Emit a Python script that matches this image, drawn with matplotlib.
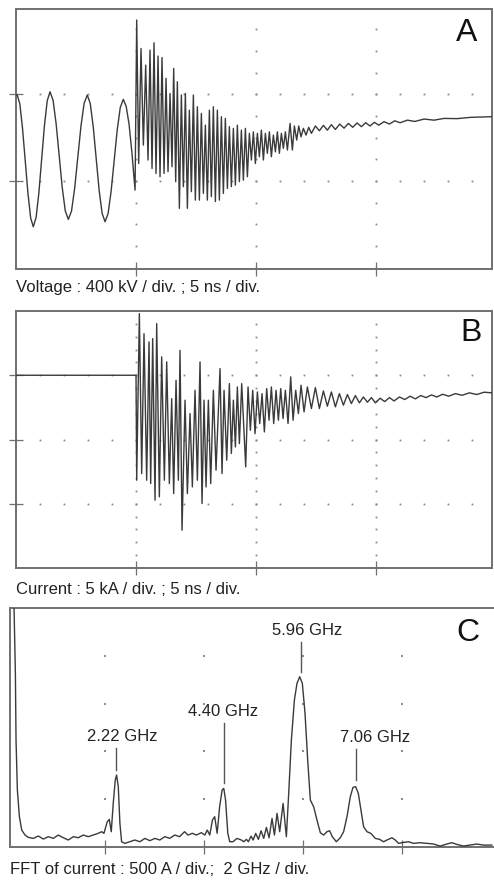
import matplotlib
matplotlib.use('Agg')
import matplotlib.pyplot as plt
import numpy as np

plt.rcParams['font.family'] = ['Liberation Sans', 'DejaVu Sans']

# ---- panel A : voltage (ns, kV) ----
volt_t = [0.0, 0.05, 0.16, 0.27, 0.385, 0.5, 0.61, 0.72, 0.836, 0.952, 1.068, 1.185, 1.30,
          1.417, 1.544, 1.671, 1.80, 1.926, 2.053, 2.18, 2.312, 2.443, 2.575, 2.707, 2.838,
          2.97, 3.093, 3.217, 3.34, 3.463, 3.587, 3.71, 3.837, 3.963, 4.09, 4.217, 4.343,
          4.47, 4.59, 4.71, 4.83, 4.96,
          5.028, 5.111, 5.208, 5.306, 5.403, 5.5, 5.583, 5.667, 5.75, 5.833, 5.917, 6.0,
          6.083, 6.167, 6.25, 6.333, 6.417, 6.5, 6.569, 6.653, 6.722, 6.806, 6.889, 6.972,
          7.056, 7.139, 7.222, 7.306, 7.389, 7.472, 7.556, 7.639, 7.722, 7.806, 7.889, 7.972,
          8.056, 8.139, 8.222, 8.306, 8.389, 8.472, 8.556, 8.639, 8.722, 8.806, 8.889, 8.972,
          9.056, 9.139, 9.222, 9.306, 9.389, 9.472, 9.556, 9.639, 9.722, 9.806, 9.889, 9.972,
          10.056, 10.139, 10.222, 10.306, 10.389, 10.472, 10.556, 10.639, 10.722, 10.806,
          10.889, 10.972, 11.056, 11.139, 11.222, 11.306, 11.417, 11.514, 11.597, 11.694,
          11.778, 11.875, 11.972, 12.083, 12.194, 12.306, 12.472, 12.639, 12.806, 12.972,
          13.139, 13.306, 13.486, 13.667, 13.847, 14.028, 14.208, 14.389, 14.569, 14.75,
          14.93, 15.111, 15.333, 15.556, 15.778, 16.0, 16.306, 16.611, 17.0, 17.417, 17.833,
          18.389, 18.944, 19.847]
volt_kv = [397, 397, 356, 245, 93, -59, -170, -211, -169, -55, 100, 256, 370,
           412, 373, 265, 118, -30, -138, -177, -139, -34, 110, 254, 359,
           397, 358, 251, 105, -42, -149, -188, -150, -47, 95, 236, 339,
           377, 345, 262, 130, -42,
           743, 81, 612, 166, 535, 97, 604, 58, 638, 35, 577, 20,
           570, 35, 474, 43, 404, 66, 520, -3, 458, -126, 397, -26,
           404, -126, 327, -49, 397, -88, 343, -88, 312, -57, 258, -88,
           327, -72, 343, -95, 327, -88, 297, -57, 289, -34, 251, -26,
           243, -19, 258, -3, 235, 4, 243, 20, 220, 97, 227, 81,
           220, 112, 235, 97, 220, 128, 227, 112, 212, 135,
           227, 128, 220, 151, 227, 143, 266, 143, 254, 189,
           254, 204, 243, 212, 248, 220, 254, 232, 257, 235,
           260, 238, 263, 244, 266, 248, 268, 251, 269, 254,
           271, 258, 274, 263, 278, 269, 281, 275, 286, 281, 289,
           288, 294, 297]

# ---- panel B : current (ns, kA) ----
curr_t = [0.0, 5.0, 5.028, 5.139, 5.236, 5.333, 5.444, 5.542, 5.611, 5.694, 5.792, 5.861,
          5.972, 6.069, 6.181, 6.278, 6.389, 6.486, 6.569, 6.667, 6.764, 6.833, 6.917, 7.042,
          7.139, 7.25, 7.347, 7.458, 7.556, 7.667, 7.75, 7.833, 7.917, 8.014, 8.111, 8.222,
          8.333, 8.5, 8.583, 8.667, 8.778, 8.889, 8.972, 9.056, 9.139, 9.222, 9.306, 9.403,
          9.569, 9.667, 9.764, 9.861, 9.958, 10.056, 10.153, 10.25, 10.347, 10.444, 10.542,
          10.639, 10.736, 10.833, 10.931, 11.028, 11.125, 11.222, 11.333, 11.444, 11.542,
          11.653, 11.764, 11.875, 12.0, 12.139, 12.306, 12.472, 12.639, 12.806, 12.972,
          13.139, 13.306, 13.472, 13.639, 13.806, 13.972, 14.139, 14.306, 14.472, 14.639,
          14.806, 14.972, 15.167, 15.361, 15.556, 15.75, 15.972, 16.194, 16.417, 16.639,
          16.861, 17.083, 17.306, 17.528, 17.778, 18.028, 18.306, 18.583, 18.889, 19.194,
          19.5, 19.847]
curr_ka = [0.0, 0.0, -8.17, 4.80, -7.65, 3.24, -8.17, 2.59, -8.43, 2.85, -9.72, 4.02,
           -9.46, 1.43, -8.17, 1.04, -8.43, -1.82, -9.21, -0.39, -8.17, 1.94, -12.06, -1.94,
           -9.21, -2.98, -8.69, -1.17, -8.17, 1.04, -9.98, -1.94, -8.69, -1.94, -8.43, -1.17,
           -7.39, 0.52, -7.65, -1.17, -6.61, -0.65, -6.09, -1.94, -5.58, -0.91, -5.32, -0.65,
           -7.13, -0.91, -4.28, -1.17, -4.54, -1.30, -3.76, -1.43, -4.41, -1.04, -3.50,
           -0.91, -3.76, -1.17, -3.50, -1.04, -3.37, -1.17, -3.76, -0.13, -3.50,
           -1.17, -2.98, -0.78, -2.85, -0.91, -2.59, -0.96, -2.59, -1.22, -2.41,
           -1.30, -2.46, -1.43, -2.33, -1.50, -2.20, -1.58, -2.15, -1.69, -2.10,
           -1.74, -2.15, -1.79, -2.05, -1.74, -2.00, -1.69, -1.89, -1.63, -1.84,
           -1.58, -1.74, -1.53, -1.69, -1.48, -1.63, -1.43, -1.56, -1.37, -1.50,
           -1.32, -1.37]

# ---- panel C : FFT of current (GHz, A) ----
fft_f = [0.13, 0.152, 0.179, 0.192, 0.219, 0.26, 0.307, 0.374, 0.441, 0.542, 0.643, 0.744,
         0.845, 0.946, 1.047, 1.148, 1.249, 1.35, 1.451, 1.552, 1.653, 1.754, 1.855, 1.923,
         1.97, 2.037, 2.078, 2.118, 2.158, 2.199, 2.226, 2.26, 2.293, 2.327, 2.394, 2.495,
         2.596, 2.697, 2.798, 2.899, 3.0, 3.1, 3.2, 3.3, 3.4, 3.5, 3.6, 3.67, 3.76, 3.84,
         3.94, 4.01, 4.06, 4.11, 4.165, 4.21, 4.26, 4.31, 4.36, 4.394, 4.43, 4.475, 4.515,
         4.58, 4.66, 4.75,
         4.798, 4.852, 4.892, 4.946, 4.987, 5.040, 5.094, 5.148, 5.202, 5.256, 5.310, 5.370,
         5.418, 5.471, 5.525, 5.593, 5.660, 5.707, 5.761, 5.822, 5.875, 5.929, 5.983, 6.037,
         6.091, 6.145, 6.212, 6.279, 6.347, 6.414, 6.481, 6.535, 6.589, 6.670, 6.751, 6.818,
         6.886, 6.953, 7.007, 7.061, 7.115, 7.168, 7.222, 7.290, 7.370, 7.458, 7.545, 7.626,
         7.694, 7.795, 7.862, 7.929, 8.030, 8.131, 8.232, 8.367, 8.502, 8.636, 8.771, 8.906,
         9.007, 9.108, 9.242, 9.377, 9.512, 9.646, 9.815]
fft_a = [3000, 2496, 1816, 1119, 596, 317, 177, 125, 101, 90, 115, 83,
         108, 90, 125, 97, 73, 108, 97, 125, 108, 125, 143, 160,
         143, 264, 289, 160, 456, 700, 753, 631, 247, 55, 38, 55,
         73, 55, 90, 66, 90, 73, 108, 90, 125, 108, 160, 125, 143, 125,
         150, 125, 177, 125, 282, 317, 143, 421, 596, 613, 491, 143, 55,
         55, 90, 73,
         55, 80, 55, 114, 73, 142, 80, 170, 90, 205, 97, 299,
         125, 352, 160, 456, 108, 561, 1119, 1537, 1712, 1781, 1712, 1398,
         910, 491, 421, 282, 149, 125, 160, 170, 108, 55, 97, 160,
         317, 526, 624, 631, 561, 387, 212, 160, 142, 90, 80, 55,
         73, 97, 73, 38, 48, 55, 38, 45, 38, 31, 10, 31,
         45, 27, 10, 20, 31, 20, 20]

peak_f = [2.22, 4.40, 5.96, 7.06]
peak_txt = ['2.22 GHz', '4.40 GHz', '5.96 GHz', '7.06 GHz']
# pointer lines and label placement (A / GHz)
line_lo = [805, 669, 1831, 700]
line_hi = [1036, 1297, 2144, 1025]
txt_dx = [0.13, -0.03, 0.12, 0.40]

W, H = 494, 882
fig = plt.figure(figsize=(W / 100, H / 100), dpi=100)
fig.patch.set_facecolor('white')


def px_axes(x0, y0, x1, y1):
    return fig.add_axes([x0 / W, 1 - y1 / H, (x1 - x0) / W, (y1 - y0) / H])


BOX = '#707070'
TRACE = '#3a3a3a'
DOT = '#8c8c8c'


def scope_frame(ax, xmaj, ymaj, xstep, ystep, full=True):
    for sp in ax.spines.values():
        sp.set_color(BOX)
        sp.set_linewidth(1.4)
    ax.set_xticks(xmaj)
    ax.set_yticks(ymaj)
    ax.set_xticklabels([])
    ax.set_yticklabels([])
    ax.tick_params(direction='inout', length=10, width=0.9, color=BOX)
    x0, x1 = ax.get_xlim()
    y0, y1 = ax.get_ylim()
    if full:
        xs = np.arange(np.ceil(x0 / xstep) * xstep, x1, xstep)
        ys = np.arange(np.ceil(y0 / ystep) * ystep, y1, ystep)
        for yg in ymaj:
            ax.plot(xs, np.full(len(xs), yg), ls='none', marker='s', ms=1.3,
                    mew=0, color=DOT, zorder=1)
        for xg in xmaj:
            ax.plot(np.full(len(ys), xg), ys, ls='none', marker='s', ms=1.3,
                    mew=0, color=DOT, zorder=1)
    else:
        gx, gy = np.meshgrid(xmaj, ymaj)
        ax.plot(gx.ravel(), gy.ravel(), ls='none', marker='s', ms=1.6,
                mew=0, color=DOT, zorder=1)


# A
ax_a = px_axes(16, 9, 492, 269)
ax_a.plot(volt_t, volt_kv, color=TRACE, lw=1.0, zorder=3)
ax_a.set_xlim(0, 19.83)
ax_a.set_ylim(-406, 794)
scope_frame(ax_a, [5, 10, 15], [0, 400], 1.0, 100)

# B
ax_b = px_axes(16, 311, 492, 568)
ax_b.plot(curr_t, curr_ka, color=TRACE, lw=1.0, zorder=3)
ax_b.set_xlim(0, 19.83)
ax_b.set_ylim(-15, 5)
scope_frame(ax_b, [5, 10, 15], [-10, -5, 0], 1.0, 1.0)

# C
ax_c = px_axes(10, 608, 497, 847)
ax_c.plot(fft_f, fft_a, color=TRACE, lw=1.0, zorder=3)
ax_c.set_xlim(0.07, 9.92)
ax_c.set_ylim(0, 2500)
scope_frame(ax_c, [2, 4, 6, 8], [500, 1000, 1500, 2000], 2, 500, full=False)
ax_c.tick_params(axis='y', length=0)
for f, txt, lo, hi, dx in zip(peak_f, peak_txt, line_lo, line_hi, txt_dx):
    ax_c.plot([f, f], [lo, hi], color='#555555', lw=1.0, zorder=2)
    ax_c.text(f + dx, hi + 118, txt, ha='center', va='center', fontsize=12,
              color='#222222')

# panel letters and captions
for lx, ly, s in [(467, 33, 'A'), (471, 333, 'B'), (468, 633, 'C')]:
    fig.text(lx / W, 1 - ly / H, s, ha='center', va='center', fontsize=23,
             color='#111111')

fig.text(16 / W, 1 - 288 / H, 'Voltage : 400 kV / div. ; 5 ns / div.',
         ha='left', va='center', fontsize=12, color='#222222')
fig.text(16 / W, 1 - 590 / H, 'Current : 5 kA / div. ; 5 ns / div.',
         ha='left', va='center', fontsize=12, color='#222222')
fig.text(10 / W, 1 - 870 / H, 'FFT of current : 500 A / div.;  2 GHz / div.',
         ha='left', va='center', fontsize=12, color='#222222')

fig.savefig('out.png', dpi=100, facecolor='white')
